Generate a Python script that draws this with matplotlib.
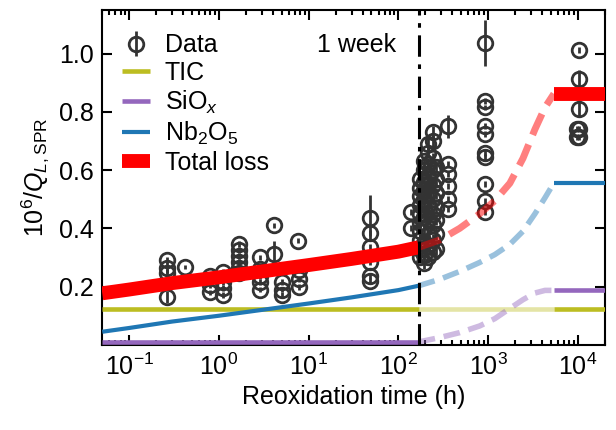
import matplotlib
matplotlib.use("Agg")
import matplotlib.pyplot as plt
import matplotlib.lines as mlines
import matplotlib.ticker as mticker
import numpy as np

plt.rcParams['font.family'] = ['Liberation Sans', 'DejaVu Sans']
plt.rcParams['mathtext.fontset'] = 'custom'
plt.rcParams['mathtext.rm'] = 'Liberation Sans'
plt.rcParams['mathtext.it'] = 'Liberation Sans:italic'
plt.rcParams['mathtext.bf'] = 'Liberation Sans:bold'
plt.rcParams['font.size'] = 18

# measured data: (hours, 1e6/Q, error)
data_t = [0.26, 0.26, 0.26, 0.26,
          0.42,
          0.8, 0.8, 0.8,
          1.1, 1.1, 1.1, 1.1,
          1.65, 1.65, 1.65, 1.65, 1.65, 1.65,
          2.9, 2.9, 2.9, 2.9, 2.9,
          4.1, 4.1,
          5.0, 5.0, 5.0,
          7.5,
          7.8, 7.8, 7.8,
          48, 48, 48, 48, 48, 48,
          138, 138,
          175, 175, 175, 175, 175, 175, 175, 175, 175, 175,
          195, 195, 195, 195, 195, 195, 195, 195, 195, 195, 195,
          215, 215, 215, 215, 215, 215, 215, 215, 215, 215, 215,
          240, 240, 240, 240, 240, 240, 240, 240, 240, 240,
          265, 265, 265, 265, 265, 265, 265,
          355, 355, 355, 355, 355, 355,
          915, 915, 915, 915, 915, 915, 915, 915, 915, 915,
          10200, 10200, 10200, 10200, 10200, 9700, 9700]
data_y = [0.29, 0.265, 0.245, 0.165,
          0.267,
          0.235, 0.205, 0.18,
          0.25, 0.215, 0.195, 0.17,
          0.345, 0.325, 0.305, 0.285, 0.265, 0.245,
          0.30, 0.26, 0.235, 0.215, 0.19,
          0.41, 0.313,
          0.215, 0.19, 0.17,
          0.358,
          0.256, 0.227, 0.199,
          0.435, 0.385, 0.335, 0.285, 0.235, 0.22,
          0.455, 0.40,
          0.30, 0.33, 0.36, 0.39, 0.42, 0.45, 0.48, 0.51, 0.54, 0.57,
          0.28, 0.31, 0.35, 0.40, 0.44, 0.47, 0.50, 0.53, 0.56, 0.60, 0.63,
          0.30, 0.34, 0.38, 0.43, 0.48, 0.52, 0.55, 0.58, 0.62, 0.66, 0.69,
          0.32, 0.36, 0.41, 0.45, 0.50, 0.55, 0.60, 0.64, 0.70, 0.73,
          0.33, 0.38, 0.43, 0.47, 0.52, 0.57, 0.61,
          0.75, 0.62, 0.587, 0.546, 0.50, 0.466,
          1.037, 0.837, 0.815, 0.75, 0.723, 0.66, 0.644, 0.552, 0.495, 0.455,
          1.013, 0.913, 0.811, 0.74, 0.715, 0.74, 0.715]
data_err = [0.01, 0.02, 0.015, 0.02,
            0.008,
            0.01, 0.01, 0.01,
            0.01, 0.01, 0.01, 0.01,
            0.01, 0.01, 0.01, 0.01, 0.01, 0.01,
            0.01, 0.01, 0.01, 0.01, 0.01,
            0.01, 0.045,
            0.01, 0.01, 0.01,
            0.01,
            0.01, 0.01, 0.01,
            0.08, 0.01, 0.01, 0.01, 0.01, 0.01,
            0.01, 0.01,
            0.02, 0.02, 0.02, 0.02, 0.02, 0.02, 0.02, 0.02, 0.02, 0.02,
            0.02, 0.02, 0.02, 0.02, 0.02, 0.02, 0.02, 0.02, 0.02, 0.02, 0.02,
            0.02, 0.02, 0.02, 0.02, 0.02, 0.02, 0.02, 0.02, 0.02, 0.02, 0.02,
            0.02, 0.02, 0.02, 0.02, 0.02, 0.02, 0.02, 0.02, 0.02, 0.02,
            0.02, 0.02, 0.02, 0.02, 0.02, 0.02, 0.02,
            0.04, 0.01, 0.01, 0.01, 0.01, 0.01,
            0.08, 0.01, 0.01, 0.01, 0.01, 0.01, 0.01, 0.01, 0.01, 0.01,
            0.01, 0.03, 0.03, 0.01, 0.01, 0.01, 0.01]

# model, fitted range (up to 1 week)
t_fit = [0.05, 0.1, 0.3, 1, 3, 10, 30, 100, 168]
nb_fit = [0.045, 0.058, 0.080, 0.100, 0.120, 0.142, 0.163, 0.188, 0.203]
total_fit = [0.177, 0.190, 0.212, 0.232, 0.252, 0.274, 0.295, 0.320, 0.335]
siox_fit = [0.01, 0.01]
tic_level = 0.122

# model, extrapolated range
t_pred = [168, 288, 481, 805, 1186, 1745, 2440, 3320, 4295, 5400]
nb_pred = [0.203, 0.225, 0.252, 0.283, 0.31, 0.345, 0.39, 0.45, 0.505, 0.556]
siox_pred = [0.01, 0.025, 0.042, 0.065, 0.09, 0.125, 0.155, 0.178, 0.187, 0.187]
total_pred = [0.335, 0.36, 0.40, 0.45, 0.495, 0.555, 0.64, 0.74, 0.815, 0.862]

# saturated values
t_sat = [5400, 20000]
nb_sat = 0.556
siox_sat = 0.187
total_sat = 0.862

t_week = 168

c_tic = '#bcbd22'
c_si = '#9467bd'
c_nb = '#1f77b4'
c_tot = 'red'
c_dat = '#333333'

fig = plt.figure(figsize=(6.16, 4.30), dpi=100)
ax = fig.add_axes([0.166, 0.198, 0.816, 0.779])

ax.errorbar(data_t, data_y, yerr=data_err, fmt='o', ms=10.5, mfc='none',
            mec=c_dat, mew=2, ecolor=c_dat, elinewidth=2, capsize=0, zorder=2)

# TIC
ax.plot([t_fit[0], t_week], [tic_level, tic_level], color=c_tic, lw=3.3, solid_capstyle='butt', zorder=3)
ax.plot([t_week, t_sat[0]], [tic_level, tic_level], color=c_tic, lw=3.3, alpha=0.4, solid_capstyle='butt', zorder=3)
ax.plot(t_sat, [tic_level, tic_level], color=c_tic, lw=3.3, solid_capstyle='butt', zorder=3)

# SiOx
ax.plot([t_fit[0], t_week], siox_fit, color=c_si, lw=3.3, solid_capstyle='butt', zorder=3)
ax.plot(t_pred, siox_pred, color=c_si, lw=4, alpha=0.45, dashes=(3, 1.6), zorder=3)
ax.plot(t_sat, [siox_sat, siox_sat], color=c_si, lw=3.3, solid_capstyle='butt', zorder=3)

# Nb2O5
ax.plot(t_fit, nb_fit, color=c_nb, lw=3, solid_capstyle='butt', zorder=3)
ax.plot(t_pred, nb_pred, color=c_nb, lw=4, alpha=0.45, dashes=(3, 1.6), zorder=3)
ax.plot(t_sat, [nb_sat, nb_sat], color=c_nb, lw=3, solid_capstyle='butt', zorder=3)

# total
ax.plot(t_fit, total_fit, color=c_tot, lw=10, solid_capstyle='butt', zorder=4)
ax.plot(t_pred, total_pred, color=c_tot, lw=5, alpha=0.5, dashes=(3.3, 1.5), zorder=4)
ax.plot(t_sat, [total_sat, total_sat], color=c_tot, lw=10, solid_capstyle='butt', zorder=4)

ax.axvline(t_week, color='black', lw=2.2, dashes=(7, 2.5, 1.5, 2.5), zorder=5)
ax.text(t_week * 0.56, 1.03, '1 week', ha='right', va='center', fontsize=18)

ax.set_xscale('log')
ax.set_xlim(0.05, 20000)
ax.set_ylim(0.0, 1.15)
ax.xaxis.set_major_locator(mticker.LogLocator(base=10, numticks=12))
ax.xaxis.set_minor_locator(mticker.LogLocator(base=10, subs=np.arange(2, 10), numticks=12))
ax.xaxis.set_minor_formatter(mticker.NullFormatter())
ax.set_yticks([0.2, 0.4, 0.6, 0.8, 1.0])
ax.yaxis.set_major_formatter(mticker.FormatStrFormatter('%.1f'))

ax.tick_params(which='both', direction='in', top=True, right=True, width=1.5)
ax.tick_params(which='major', length=7, labelsize=18, pad=6)
ax.tick_params(which='minor', length=3.5)
for s in ax.spines.values():
    s.set_linewidth(1.5)

ax.set_xlabel('Reoxidation time (h)', fontsize=18, labelpad=4)
ax.set_ylabel(r'$10^6/Q_{L,\mathrm{SPR}}$', fontsize=18, labelpad=6)

h_dat = ax.errorbar([], [], yerr=[], fmt='o', ms=10.5, mfc='none', mec=c_dat, mew=2,
                    ecolor=c_dat, elinewidth=2, capsize=0)
h_tic = mlines.Line2D([], [], color=c_tic, lw=3.3, solid_capstyle='butt')
h_si = mlines.Line2D([], [], color=c_si, lw=3.3, solid_capstyle='butt')
h_nb = mlines.Line2D([], [], color=c_nb, lw=3, solid_capstyle='butt')
h_tot = mlines.Line2D([], [], color=c_tot, lw=10, solid_capstyle='butt')
ax.legend([h_dat, h_tic, h_si, h_nb, h_tot],
          ['Data', 'TIC', r'SiO$_x$', r'Nb$_2$O$_5$', 'Total loss'],
          loc='upper left', bbox_to_anchor=(0.01, 0.975), frameon=False,
          handlelength=1.1, handletextpad=0.6, labelspacing=0.15,
          borderaxespad=0.2, fontsize=18)

fig.savefig('out.png', dpi=100)
